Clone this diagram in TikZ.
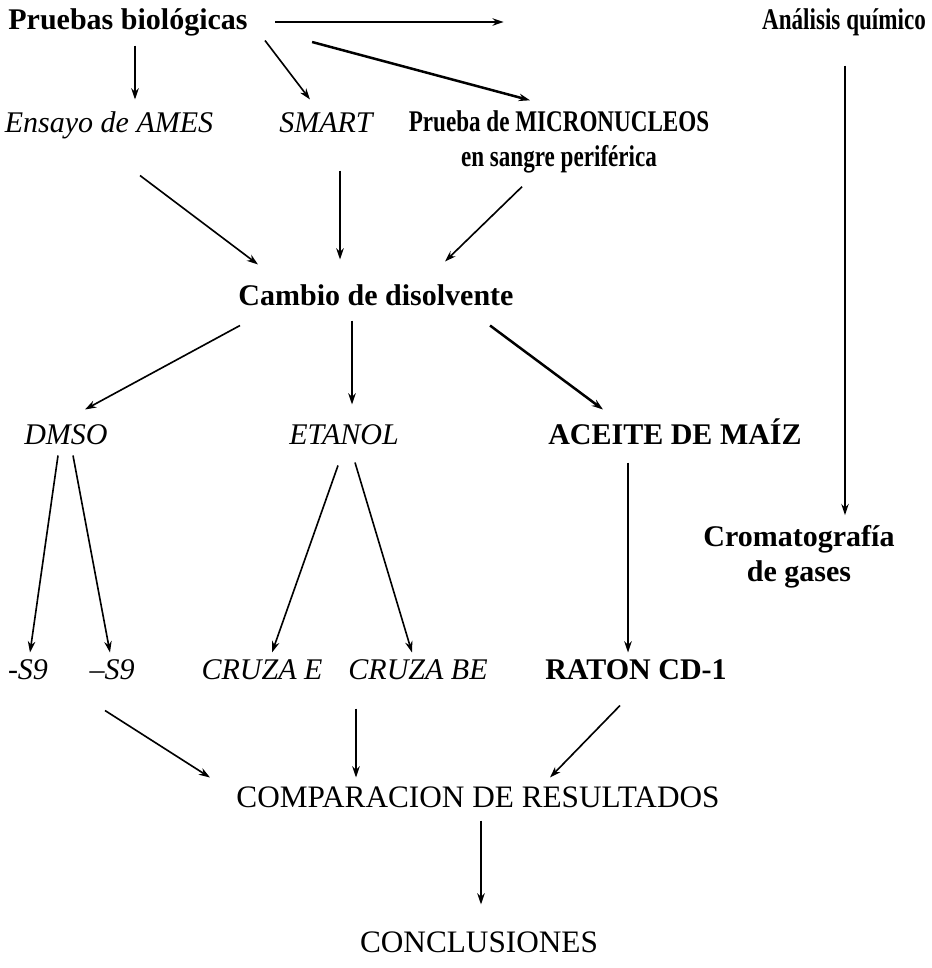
\documentclass[tikz,border=0pt]{standalone}
\usepackage{fontspec}
\setmainfont{Liberation Serif}
\usepackage{graphicx}
\usetikzlibrary{calc, arrows.meta}

\newcommand{\fuente}{\fontsize{12}{14}\selectfont}
\newcommand{\estrecho}[1]{\scalebox{0.77}[1]{#1}}

\begin{document}
\begin{tikzpicture}[x=0.4pt, y=-0.4pt, every node/.style={inner sep=0pt}, >={Stealth[length=4.5pt, width=3pt]}]
    % estilos
    \tikzstyle{negrita} = [font=\fuente\bfseries, text height=9pt, text depth=3pt]
    \tikzstyle{cursiva} = [font=\fuente\itshape, text height=9pt, text depth=3pt]
    \tikzstyle{normal} = [font=\fontsize{12.5}{14}\selectfont, text height=9pt, text depth=3pt]
    \tikzstyle{doble} = [font=\fuente\bfseries, align=center]
    \tikzstyle{flecha} = [->, line width=0.65pt]
    \tikzstyle{gruesa} = [->, line width=1pt]

    \useasboundingbox (0,0) rectangle (932,968);

    % pruebas
    \node[negrita] (pb) at (128,22) {Pruebas biológicas};
    \node[negrita] (aq) at (844,22) {\estrecho{Análisis químico}};
    \node[cursiva] (ames) at (109,125) {Ensayo de AMES};
    \node[cursiva] (smart) at (326,125) {SMART};
    \node[doble] (micro) at (559,142) {\estrecho{Prueba de MICRONUCLEOS}\\\estrecho{en sangre periférica}};
    \node[doble] (cromato) at (799,557) {Cromatografía\\de gases};

    % disolventes
    \node[negrita] (cambio) at (376,298) {Cambio de disolvente};
    \node[cursiva] (dmso) at (66,437) {DMSO};
    \node[cursiva] (etanol) at (344,437) {ETANOL};
    \node[negrita] (aceite) at (675,437) {ACEITE DE MAÍZ};

    % ensayos
    \node[cursiva] (sa) at (28,672) {-S9};
    \node[cursiva] (sb) at (112,672) {--S9};
    \node[cursiva] (ce) at (262,672) {CRUZA E};
    \node[cursiva] (cbe) at (418,672) {CRUZA BE};
    \node[negrita] (raton) at (636,672) {RATON CD-1};

    % resultados
    \node[normal] (comp) at (478,800) {COMPARACION DE RESULTADOS};
    \node[normal] (concl) at (479,945) {CONCLUSIONES};

    % flechas
    \draw[flecha] ($(pb.east)+(27,0)$) -- ($(aq.west)+(-258,0)$);
    \draw[flecha] ($(pb.south)+(7,8)$) -- ($(ames.north)+(26,-10)$);
    \draw[flecha] ($(pb.south)+(137,3)$) -- ($(smart.north)+(-16,-10)$);
    \draw[gruesa] ($(pb.east)+(64,20)$) -- ($(micro.north)+(-29,-10)$);
    \draw[flecha] ($(aq.south)+(1,28)$) -- ($(cromato.north)+(46,-10)$);
    \draw[flecha] ($(ames.south)+(31,35)$) -- ($(cambio.north)+(-118,-18)$);
    \draw[flecha] ($(smart.south)+(14,30)$) -- ($(cambio.north)+(-36,-23)$);
    \draw[flecha] ($(micro.south)+(-37,13)$) -- ($(cambio.north)+(69,-21)$);
    \draw[flecha] ($(cambio.south)+(-136,12)$) -- ($(dmso.north)+(19,-12)$);
    \draw[flecha] ($(cambio.south)+(-24,7)$) -- ($(etanol.north)+(8,-17)$);
    \draw[gruesa] ($(cambio.south)+(114,12)$) -- ($(aceite.north)+(-72,-12)$);
    \draw[flecha] ($(dmso.south)+(-8,3)$) -- ($(sa.north)+(2,-4)$);
    \draw[flecha] ($(dmso.south)+(7,3)$) -- ($(sb.north)+(-2,-4)$);
    \draw[flecha] ($(etanol.south)+(-6,13)$) -- ($(ce.north)+(10,-4)$);
    \draw[flecha] ($(etanol.south)+(11,10)$) -- ($(cbe.north)+(-6,-4)$);
    \draw[flecha] ($(aceite.south)+(-47,10)$) -- ($(raton.north)+(-8,-4)$);
    \draw[flecha] ($(sb.south)+(-7,23)$) -- ($(comp.north)+(-268,-7)$);
    \draw[flecha] ($(cbe.south)+(-62,21)$) -- ($(comp.north)+(-122,-7)$);
    \draw[flecha] ($(raton.south)+(-16,18)$) -- ($(comp.north)+(72,-7)$);
    \draw[gruesa] ($(comp.south)+(3,5)$) -- ($(concl.north)+(2,-25)$);
\end{tikzpicture}
\end{document}
